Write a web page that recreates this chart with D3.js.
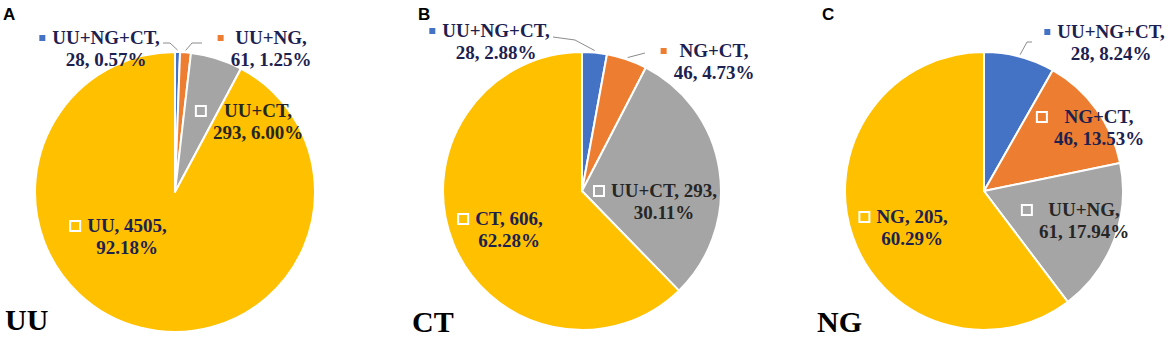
<!DOCTYPE html>
<html>
<head>
<meta charset="utf-8">
<script src="https://cdn.jsdelivr.net/npm/d3@7"></script>
<style>
  html, body { margin: 0; padding: 0; background: #fff; }
  svg { display: block; }
</style>
</head>
<body>
<svg id="chart" width="1170" height="339"></svg>
<script>
// ---------- DATA ----------
const categoriesA = ["UU+NG+CT", "UU+NG", "UU+CT", "UU"];
const valuesA = [28, 61, 293, 4505];
const categoriesB = ["UU+NG+CT", "NG+CT", "UU+CT", "CT"];
const valuesB = [28, 46, 293, 606];
const categoriesC = ["UU+NG+CT", "NG+CT", "UU+NG", "NG"];
const valuesC = [28, 46, 61, 205];
const panelTitles = ["UU", "CT", "NG"];
const panelLetters = ["A", "B", "C"];

// ---------- STYLE / LAYOUT ----------
const colorByRank = ["#4472C4", "#ED7D31", "#A5A5A5", "#FFC000"];
const panels = [
  { cats: categoriesA, vals: valuesA, cx: 175, cy: 192, r: 140, letterX: 3, titleX: 5, titleY: 330,
    labels: [
      { dx: -69, dy: -148, split: 1, inside: false, leader: [[-12, -149], [-5, -149]] },
      { dx: 96, dy: -148, split: 1, inside: false, leader: [[27, -149], [17, -149]] },
      { dx: 83, dy: -75, split: 1, inside: true },
      { dx: -48, dy: 40, split: 2, inside: true }
    ] },
  { cats: categoriesB, vals: valuesB, cx: 582, cy: 191, r: 139, letterX: 418, titleX: 412, titleY: 332,
    labels: [
      { dx: -86, dy: -154, split: 1, inside: false, leader: [[-29, -154], [-7, -151]] },
      { dx: 132, dy: -134, split: 1, inside: false, leader: [[63, -138], [63, -138]] },
      { dx: 82, dy: 6, split: 2, inside: true },
      { dx: -73, dy: 34, split: 2, inside: true }
    ] },
  { cats: categoriesC, vals: valuesC, cx: 984, cy: 191, r: 139, letterX: 822, titleX: 817, titleY: 332,
    labels: [
      { dx: 127, dy: -153, split: 1, inside: false, leader: [[48, -149], [43, -149]] },
      { dx: 115, dy: -68, split: 1, inside: true },
      { dx: 100, dy: 25, split: 1, inside: true },
      { dx: -72, dy: 32, split: 2, inside: true }
    ] }
];

const svg = d3.select("#chart");
const fmtPct = d3.format(".2f");
const labelFont = "Liberation Serif, Times New Roman, serif";
const lineH = 22;

panels.forEach((p, pi) => {
  const total = d3.sum(p.vals);
  const pie = d3.pie().sort(null).value(d => d)(p.vals);
  const color = d3.scaleOrdinal().domain(p.cats).range(colorByRank);
  const arc = d3.arc().innerRadius(0).outerRadius(p.r);
  const g = svg.append("g").attr("transform", `translate(${p.cx},${p.cy})`);

  g.selectAll("path.slice").data(pie).join("path")
    .attr("class", "slice")
    .attr("d", arc)
    .attr("fill", (d, i) => color(p.cats[i]))
    .attr("stroke", "#fff")
    .attr("stroke-width", 2)
    .attr("stroke-linejoin", "round");

  // leader lines
  pie.forEach((d, i) => {
    const L = p.labels[i];
    if (!L.leader) return;
    const mid = (d.startAngle + d.endAngle) / 2;
    const rr = p.r + 2;
    const end = [rr * Math.sin(mid), -rr * Math.cos(mid)];
    g.append("path")
      .attr("d", d3.line()([L.leader[0], L.leader[1], end]))
      .attr("fill", "none")
      .attr("stroke", "#8c8c8c")
      .attr("stroke-width", 1);
  });

  // labels
  pie.forEach((d, i) => {
    const L = p.labels[i];
    const name = p.cats[i];
    const pct = fmtPct(d.value / total * 100) + "%";
    const lines = L.split === 1
      ? [name + ",", d.value + ", " + pct]
      : [name + ", " + d.value + ",", pct];
    const txtColor = (i === 2 && L.inside) ? "#262626" : "#1c2150";
    const lg = g.append("g");
    const texts = lines.map((t, k) => lg.append("text")
      .attr("x", L.dx)
      .attr("y", L.dy + k * lineH)
      .attr("text-anchor", "middle")
      .style("font-family", labelFont)
      .style("font-weight", "bold")
      .style("font-size", "19px")
      .attr("fill", txtColor)
      .text(t));
    const maxW = d3.max(texts, t => t.node().getComputedTextLength());
    const left = L.dx - maxW / 2;
    const ms = L.inside ? 10 : 6;
    const gap = 7;
    lg.insert("rect", "text")
      .attr("x", left - gap - ms)
      .attr("y", L.dy - 6 - ms / 2)
      .attr("width", ms)
      .attr("height", ms)
      .attr("fill", color(name))
      .attr("stroke", L.inside ? "#fff" : "none")
      .attr("stroke-width", L.inside ? 2 : 0);
  });

  // panel letter
  svg.append("text")
    .attr("x", p.letterX)
    .attr("y", 20)
    .style("font-family", "Liberation Sans, Arial, sans-serif")
    .style("font-weight", "bold")
    .style("font-size", "17px")
    .attr("fill", "#000")
    .text(panelLetters[pi]);

  // panel title
  svg.append("text")
    .attr("x", p.titleX)
    .attr("y", p.titleY)
    .style("font-family", labelFont)
    .style("font-weight", "bold")
    .style("font-size", "30px")
    .attr("fill", "#000")
    .text(panelTitles[pi]);
});
</script>
</body>
</html>
